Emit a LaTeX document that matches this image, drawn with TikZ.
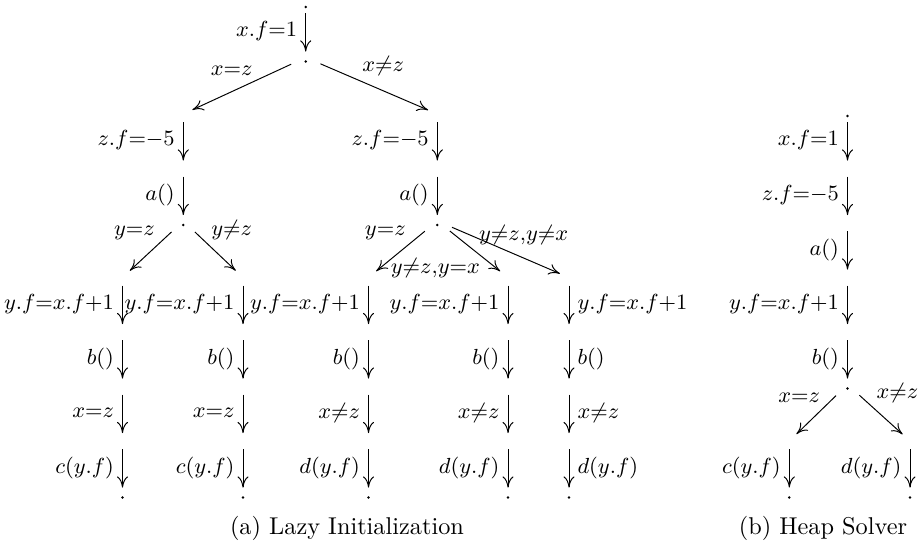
\documentclass[tikz,border=0pt]{standalone}
\usetikzlibrary{arrows.meta}
\newcommand\lyf{$y.f{=}x.f{+}1$}
\newcommand\lzf{$z.f{=}{-}5$}
\begin{document}
\begin{tikzpicture}[x=0.4115pt,y=-0.4115pt,
  arr/.style={-{To[length=4.6pt,width=4.6pt]}, line width=0.4pt, shorten <=2.47pt, shorten >=4.1pt},
  diag/.style={-{To[length=4.6pt,width=4.6pt]}, line width=0.4pt, shorten <=6.6pt, shorten >=4.1pt},
  lbl/.style={font=\small, pos=0.45},
  dlbl/.style={font=\small, inner sep=1.5pt},
  dot/.style={circle, fill, inner sep=0pt, minimum size=1.1pt}]
\useasboundingbox (0,0) rectangle (924,546);

% ---- tree (a) ----
\coordinate (A0) at (305.7,7);
\coordinate (A1) at (305.7,61.5);
\coordinate (B2) at (183.3,116);
\coordinate (B3) at (183.3,170.5);
\coordinate (B4) at (183.3,225);
\coordinate (C2) at (437.3,116);
\coordinate (C3) at (437.3,170.5);
\coordinate (C4) at (437.3,225);
\foreach \n/\x in {P/122.5,Q/243,R/368.5,S/508,T/569}{
  \coordinate (\n5) at (\x,279.5);
  \coordinate (\n6) at (\x,334);
  \coordinate (\n7) at (\x,388.5);
  \coordinate (\n8) at (\x,443);
  \coordinate (\n9) at (\x,497.5);
}
% ---- tree (b) ----
\coordinate (H2) at (847.5,116);
\coordinate (H3) at (847.5,170.5);
\coordinate (H4) at (847.5,225);
\coordinate (H5) at (847.5,279.5);
\coordinate (H6) at (847.5,334);
\coordinate (H7) at (847.5,388.5);
\coordinate (U8) at (789.3,443);
\coordinate (U9) at (789.3,497.5);
\coordinate (V8) at (910,443);
\coordinate (V9) at (910,497.5);

\foreach \n in {A0,A1,B4,C4,P9,Q9,R9,S9,T9,H2,H7,U9,V9}
  \node[dot] (dot\n) at (\n) {};

% edges (a)
\draw[arr] (A0) -- node[lbl,left]{$x.f{=}1$} (A1);
\draw[diag] ([yshift=1.65pt]A1) -- node[dlbl,pos=0.4,above left]{$x{=}z$} ([yshift=0.82pt]B2);
\draw[diag] ([yshift=1.65pt]A1) -- node[dlbl,pos=0.4,above right]{$x{\neq}z$} ([yshift=0.82pt]C2);
\draw[arr] (B2) -- node[lbl,left]{\lzf} (B3);
\draw[arr] (B3) -- node[lbl,left]{$a()$} (B4);
\draw[arr] (C2) -- node[lbl,left]{\lzf} (C3);
\draw[arr] (C3) -- node[lbl,left]{$a()$} (C4);
\draw[diag] ([yshift=1.65pt]B4) -- node[dlbl,pos=0.4,above left]{$y{=}z$} ([yshift=0.82pt]P5);
\draw[diag] ([yshift=1.65pt]B4) -- node[dlbl,pos=0.4,above right]{$y{\neq}z$} ([yshift=0.82pt]Q5);
\draw[diag] ([yshift=1.65pt]C4) -- node[dlbl,pos=0.4,above left]{$y{=}z$} ([yshift=0.82pt]R5);
\draw[diag] ([yshift=1.65pt]C4) -- node[dlbl,pos=0.84,left,xshift=-5.2pt]{$y{\neq}z{,}y{=}x$} ([yshift=0.82pt]S5);
\draw[diag] ([yshift=1.65pt]C4) -- node[dlbl,pos=0.24,right,xshift=2.5pt]{$y{\neq}z{,}y{\neq}x$} ([yshift=0.82pt]T5);

\foreach \n/\l in {P/{$x{=}z$},Q/{$x{=}z$},R/{$x{\neq}z$},S/{$x{\neq}z$}}{
  \draw[arr] (\n5) -- node[lbl,left]{\lyf} (\n6);
  \draw[arr] (\n6) -- node[lbl,left]{$b()$} (\n7);
  \draw[arr] (\n7) -- node[lbl,left]{\l} (\n8);
}
\draw[arr] (P8) -- node[lbl,left]{$c(y.f)$} (P9);
\draw[arr] (Q8) -- node[lbl,left]{$c(y.f)$} (Q9);
\draw[arr] (R8) -- node[lbl,left]{$d(y.f)$} (R9);
\draw[arr] (S8) -- node[lbl,left]{$d(y.f)$} (S9);
\draw[arr] (T5) -- node[lbl,right]{\lyf} (T6);
\draw[arr] (T6) -- node[lbl,right]{$b()$} (T7);
\draw[arr] (T7) -- node[lbl,right]{$x{\neq}z$} (T8);
\draw[arr] (T8) -- node[lbl,right]{$d(y.f)$} (T9);

% edges (b)
\draw[arr] (H2) -- node[lbl,left]{$x.f{=}1$} (H3);
\draw[arr] (H3) -- node[lbl,left]{\lzf} (H4);
\draw[arr] (H4) -- node[lbl,left]{$a()$} (H5);
\draw[arr] (H5) -- node[lbl,left]{\lyf} (H6);
\draw[arr] (H6) -- node[lbl,left]{$b()$} (H7);
\draw[diag] ([yshift=1.65pt]H7) -- node[dlbl,pos=0.4,above left]{$x{=}z$} ([yshift=0.82pt]U8);
\draw[diag] ([yshift=1.65pt]H7) -- node[dlbl,pos=0.4,above right]{$x{\neq}z$} ([yshift=0.82pt]V8);
\draw[arr] (U8) -- node[lbl,left]{$c(y.f)$} (U9);
\draw[arr] (V8) -- node[lbl,left]{$d(y.f)$} (V9);

% captions
\node (capa) at (347,528) {(a) Lazy Initialization};
\node (capb) at (823,528) {(b) Heap Solver};
\end{tikzpicture}
\end{document}
